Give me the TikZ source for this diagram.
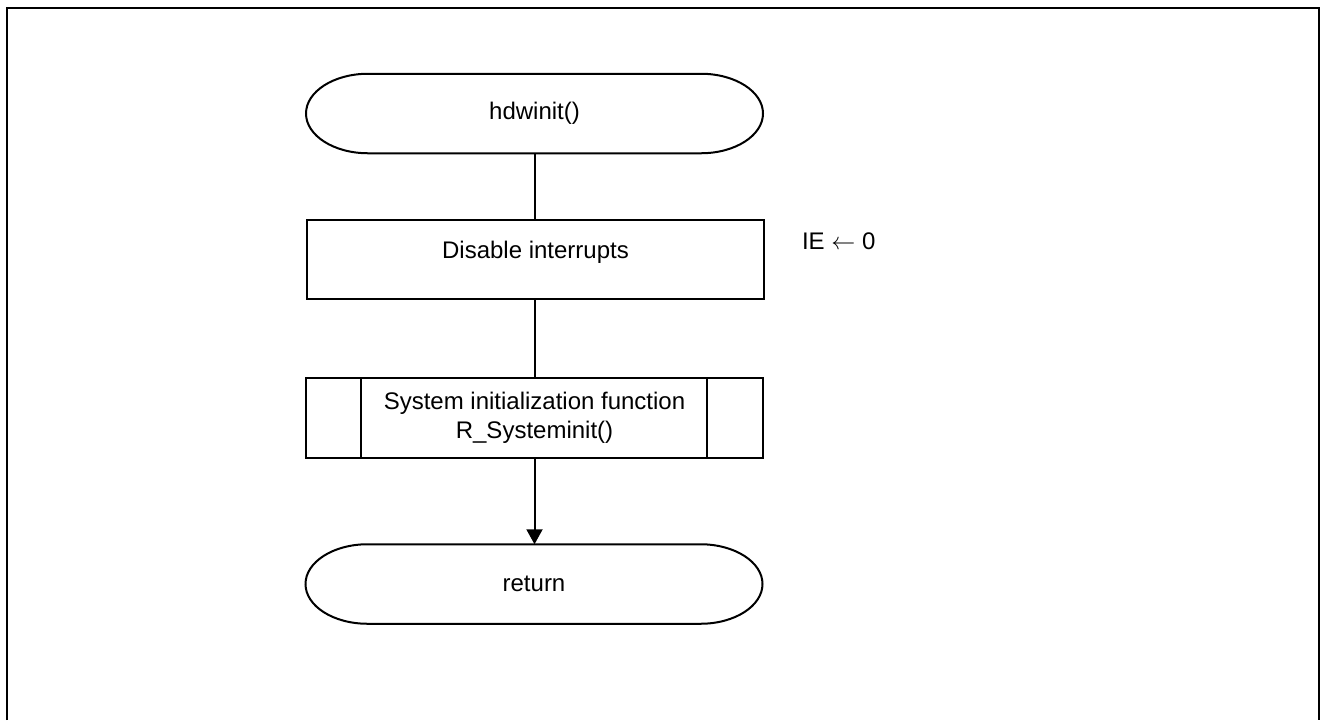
\documentclass[tikz,border=0pt]{standalone}
\usepackage{fontspec}
\setmainfont{Liberation Sans}
\usetikzlibrary{arrows.meta}
\begin{document}
\begin{tikzpicture}[x=0.5pt,y=-0.5pt,
  line width=1pt,
  every node/.style={font=\fontsize{12}{14.4}\selectfont, inner sep=0pt, outer sep=0pt},
  terminal/.style={minimum width=228.5pt, minimum height=39.75pt},
  procbox/.style={draw, minimum width=228.5pt, minimum height=39.5pt},
  subbox/.style={draw, minimum width=228.5pt, minimum height=40pt, align=center},
  flow/.style={line width=1pt},
  flowarrow/.style={flow, -{Triangle[length=7.5pt,width=8pt]}}]
\useasboundingbox (0,0) rectangle (1324,720);

% outer frame, open at the bottom
\draw[line width=1.25pt] (7,720) -- (7,8) -- (1319,8) -- (1319,720);

% nodes
\node[terminal] (start) at (534.5,113.5) {hdwinit()};
\node[procbox] (dis) at (535.5,259.5) {};
\node (distext) at (535.5,252) {Disable interrupts};
\node[subbox] (sys) at (534.5,418) {System initialization function\\R\_Systeminit()};
\node[terminal] (ret) at (534,584) {return};
\node[anchor=west] (ie) at (802,241) {IE $\leftarrow$ 0};

% terminal outlines with elliptical ends
\foreach \t in {start,ret}{
  \draw ([xshift=31pt]\t.north west) -- ([xshift=-31pt]\t.north east)
    arc[start angle=90,end angle=-90,x radius=31pt,y radius=19.875pt]
    -- ([xshift=31pt]\t.south west)
    arc[start angle=270,end angle=90,x radius=31pt,y radius=19.875pt] -- cycle;
}

% predefined-process side bars
\draw ([xshift=27.5pt]sys.north west) -- ([xshift=27.5pt]sys.south west);
\draw ([xshift=-28pt]sys.north east) -- ([xshift=-28pt]sys.south east);

% connectors
\draw[flow] (start.south) -- (start.south |- dis.north);
\draw[flow] (dis.south -| sys.north) -- (sys.north);
\draw[flowarrow] (sys.south) -- (sys.south |- ret.north);
\end{tikzpicture}
\end{document}
